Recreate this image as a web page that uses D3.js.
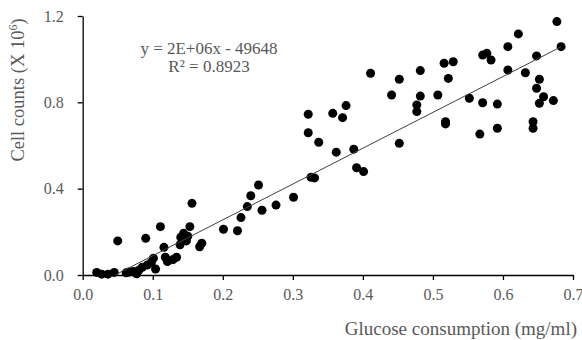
<!DOCTYPE html>
<html><head><meta charset="utf-8">
<script src="https://cdn.jsdelivr.net/npm/d3@7"></script>
<style>body{margin:0;background:#fff}svg{display:block}</style>
</head><body>
<svg id="c" width="582" height="340"></svg>
<script>
const glucose = [0.020,0.027,0.036,0.045,0.050,0.062,0.066,0.072,0.077,0.080,0.085,0.090,0.092,0.098,0.101,0.104,0.111,0.116,0.118,0.121,0.129,0.134,0.139,0.140,0.144,0.148,0.150,0.153,0.156,0.167,0.170,
0.201,0.221,0.226,0.235,0.240,0.251,0.256,0.276,0.301,0.322,0.322,0.326,0.331,0.337,0.357,0.362,0.371,0.376,0.387,0.391,0.401,0.411,0.441,0.452,0.452,0.477,0.477,0.482,0.482,0.507,0.518,0.518,0.516,0.522,0.529,0.552,0.567,0.571,0.577,0.583,0.571,0.592,0.592,0.607,0.607,0.622,0.632,0.643,0.643,0.648,0.648,0.652,0.652,0.658,0.672,0.677,0.683];
const cells = [0.012,0.004,0.004,0.012,0.158,0.010,0.014,0.016,0.006,0.022,0.036,0.170,0.046,0.058,0.078,0.028,0.224,0.128,0.082,0.062,0.072,0.082,0.140,0.175,0.193,0.158,0.180,0.224,0.332,0.131,0.147,
0.212,0.205,0.266,0.317,0.367,0.417,0.300,0.324,0.360,0.745,0.659,0.453,0.450,0.615,0.749,0.569,0.729,0.785,0.583,0.497,0.479,0.935,0.834,0.907,0.610,0.788,0.757,0.829,0.947,0.834,0.710,0.700,0.981,0.911,0.988,0.819,0.653,1.019,1.027,0.996,0.798,0.792,0.680,1.058,0.950,1.117,0.937,0.710,0.680,1.015,0.865,0.907,0.796,0.826,0.808,1.174,1.058];
const xTicks = [0,0.1,0.2,0.3,0.4,0.5,0.6,0.7];
const yTicks = [0,0.4,0.8,1.2];
const trendSlope = 1.66, trendIntercept = -0.0765;
const eqLines = ["y = 2E+06x - 49648", "R\u00b2 = 0.8923"];
const xTitle = "Glucose consumption (mg/ml)";

const svg = d3.select("#c");
const x = d3.scaleLinear().domain([0,0.7]).range([82.7,573]);
const y = d3.scaleLinear().domain([0,1.2]).range([275,16]);
const font = "'Liberation Serif','Times New Roman',serif";
const grey = "#595959";

const gx = svg.append("g").attr("transform","translate(0,275)")
  .call(d3.axisBottom(x).tickValues(xTicks).tickFormat(d3.format(".1f")).tickSize(5).tickSizeOuter(0).tickPadding(9));
const gy = svg.append("g").attr("transform","translate(82.7,0)")
  .call(d3.axisLeft(y).tickValues(yTicks).tickFormat(d3.format(".1f")).tickSize(5).tickSizeOuter(0).tickPadding(14));
[gx,gy].forEach(g=>{
  g.selectAll("path,line").attr("stroke","#000").attr("stroke-width",1.3);
  g.selectAll("text").attr("fill",grey).style("font-family",font).style("font-size","16px");
});

const pts = glucose.map((g,i)=>({g,c:cells[i]}));
svg.append("g").selectAll("circle").data(pts).join("circle")
  .attr("cx",d=>x(d.g)).attr("cy",d=>y(d.c)).attr("r",4.5).attr("fill","#000");

const xMax = d3.max(glucose);
const xStart = Math.max(d3.min(glucose), -trendIntercept/trendSlope);
svg.append("line")
  .attr("x1",x(xStart)).attr("y1",y(trendSlope*xStart+trendIntercept))
  .attr("x2",x(xMax)).attr("y2",y(trendSlope*xMax+trendIntercept))
  .attr("stroke","#404040").attr("stroke-width",1);

svg.append("g").selectAll("text").data(eqLines).join("text")
  .attr("x",209).attr("y",(d,i)=>54+i*18).attr("text-anchor","middle")
  .attr("fill",grey).style("font-family",font).style("font-size","17px").text(d=>d);

svg.append("text").attr("x",577).attr("y",335).attr("text-anchor","end")
  .attr("fill",grey).style("font-family",font).style("font-size","19px").text(xTitle);

const yt = svg.append("text").attr("transform","translate(24,90) rotate(-90)").attr("text-anchor","middle")
  .attr("fill",grey).style("font-family",font).style("font-size","18.5px");
yt.append("tspan").text("Cell counts (X 10");
yt.append("tspan").attr("dy",-7).style("font-size","12px").text("6");
yt.append("tspan").attr("dy",7).text(")");
</script>
</body></html>
